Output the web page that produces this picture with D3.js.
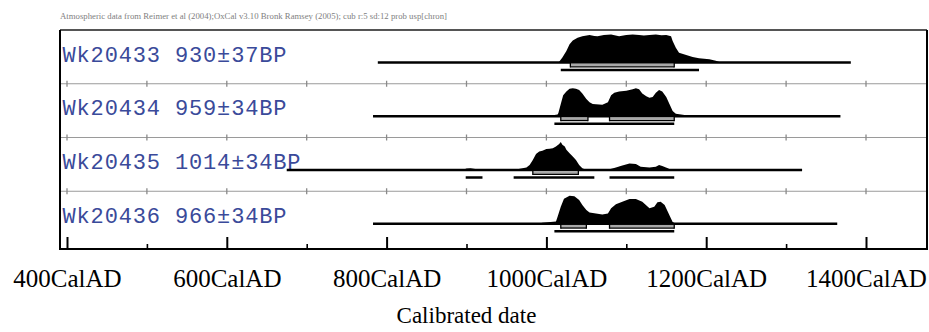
<!DOCTYPE html>
<html>
<head>
<meta charset="utf-8">
<script src="https://cdn.jsdelivr.net/npm/d3@7"></script>
<style>
  body { margin: 0; background: #fff; }
  svg { display: block; }
</style>
</head>
<body>
<div id="chart"></div>
<script>
// sample names and their BP ages
var samples = ["Wk20433", "Wk20434", "Wk20435", "Wk20436"];
var bpLabels = ["930\u00b137BP", "959\u00b134BP", "1014\u00b134BP", "966\u00b134BP"];

// full extent line under each distribution (cal AD)
var rangeLines = [[789, 1381], [783, 1368], [675, 1320], [783, 1364]];

// relative probability (1 = peak)
var dist1 = [[1014,0],[1016,0.03],[1020,0.18],[1025,0.41],[1029,0.65],[1033,0.79],[1039,0.88],[1045,0.94],[1054,0.98],[1060,0.95],[1064,0.94],[1072,0.98],[1081,1.0],[1091,0.94],[1100,0.98],[1108,1.0],[1116,0.98],[1122,0.96],[1129,0.98],[1137,1.0],[1144,0.97],[1150,0.98],[1156,0.94],[1158,0.77],[1162,0.53],[1166,0.35],[1175,0.27],[1183,0.2],[1191,0.15],[1204,0.12],[1212,0.06],[1218,0]];
var dist2 = [[990,0],[1008,0.04],[1014,0.06],[1015,0.12],[1018,0.44],[1021,0.75],[1025,0.88],[1029,0.98],[1033,1.0],[1037,0.98],[1041,0.94],[1045,0.81],[1050,0.62],[1054,0.5],[1058,0.44],[1070,0.41],[1077,0.5],[1081,0.75],[1085,0.84],[1091,0.88],[1100,0.91],[1108,0.96],[1112,1.0],[1116,0.96],[1120,0.81],[1125,0.71],[1129,0.66],[1133,0.69],[1137,0.84],[1141,0.94],[1145,0.88],[1150,0.69],[1154,0.44],[1158,0.19],[1162,0.09],[1175,0.04],[1179,0]];
var dist3 = [[895,0],[900,0.05],[905,0.06],[911,0.04],[915,0],[960,0],[962,0.02],[975,0.09],[979,0.18],[983,0.36],[987,0.57],[991,0.66],[995,0.69],[1000,0.75],[1004,0.76],[1008,0.78],[1012,0.84],[1016,0.93],[1018,1.0],[1020,0.9],[1023,0.84],[1025,0.72],[1029,0.6],[1033,0.48],[1037,0.36],[1041,0.18],[1045,0.06],[1050,0],[1076,0],[1079,0.03],[1087,0.09],[1095,0.16],[1104,0.23],[1112,0.21],[1118,0.12],[1129,0.09],[1137,0.12],[1141,0.18],[1145,0.14],[1152,0.06],[1156,0]];
var dist4 = [[990,0],[995,0.04],[1012,0.08],[1014,0.25],[1018,0.61],[1022,0.89],[1029,1.0],[1035,0.98],[1041,0.85],[1045,0.67],[1050,0.49],[1054,0.4],[1062,0.37],[1070,0.33],[1077,0.37],[1081,0.55],[1087,0.7],[1095,0.79],[1104,0.88],[1112,0.88],[1120,0.79],[1129,0.55],[1135,0.61],[1139,0.77],[1143,0.79],[1148,0.67],[1154,0.3],[1158,0.06],[1162,0]];
var dists = [dist1, dist2, dist3, dist4];

// 68.2% and 95.4% ranges
var range68 = [[[1030,1160]], [[1018,1052],[1079,1160]], [[983,1040]], [[1018,1050],[1079,1160]]];
var range95 = [[[1018,1191]], [[1010,1160]], [[899,920],[959,1060],[1079,1160]], [[1010,1160]]];

var majorTicks = [400, 600, 800, 1000, 1200, 1400];
var minorTicks = [500, 700, 900, 1100, 1300];
var gridTicks = [400, 500, 600, 700, 800, 900, 1000, 1100, 1200, 1300, 1400];

var title = "Atmospheric data from Reimer et al (2004);OxCal v3.10 Bronk Ramsey (2005); cub r:5 sd:12 prob usp[chron]";

var width = 929, height = 332;
var frame = { left: 60, right: 927, top: 30, bottom: 249 };

var svg = d3.select("#chart").append("svg")
  .attr("width", width)
  .attr("height", height);

var x = d3.scaleLinear().domain([400, 1400]).range([67, 866]);
var rows = d3.scaleBand().domain(samples).range([frame.top, 245]);
var yDens = d3.scaleLinear().domain([0, 1]).range([0, 28]);

// header
svg.append("text")
  .attr("x", frame.left)
  .attr("y", 19)
  .attr("textLength", 387)
  .attr("lengthAdjust", "spacingAndGlyphs")
  .style("font-family", "Liberation Serif")
  .style("font-size", "9px")
  .style("fill", "#808080")
  .text(title);

samples.forEach(function(s, i) {
  var top = rows(s);
  var base = top + 32.5;
  var g = svg.append("g");

  if (i > 0) {
    g.append("line")
      .attr("x1", frame.left).attr("x2", frame.right)
      .attr("y1", top).attr("y2", top)
      .style("stroke", "#9a9a9a").style("stroke-width", 1.2);
    g.selectAll(".gt").data(gridTicks).enter().append("line")
      .attr("x1", function(d) { return x(d); })
      .attr("x2", function(d) { return x(d); })
      .attr("y1", top - 3).attr("y2", top + 3)
      .style("stroke", "#8a8a8a").style("stroke-width", 1.3);
  }

  g.append("text")
    .attr("x", 62.5)
    .attr("y", top + 31.5)
    .style("font-family", "Liberation Mono")
    .style("font-size", "22px")
    .style("letter-spacing", "0.85px")
    .style("fill", "#3a4a9a")
    .text(s + " " + bpLabels[i]);

  var area = d3.area()
    .x(function(d) { return x(d[0]); })
    .y0(base)
    .y1(function(d) { return base - yDens(d[1]); });

  g.append("path")
    .datum(dists[i])
    .attr("d", area)
    .style("fill", "#000");

  g.append("line")
    .attr("x1", x(rangeLines[i][0])).attr("x2", x(rangeLines[i][1]))
    .attr("y1", base).attr("y2", base)
    .style("stroke", "#000").style("stroke-width", 2.5);

  range68[i].forEach(function(r) {
    g.append("rect")
      .attr("x", x(r[0])).attr("width", x(r[1]) - x(r[0]))
      .attr("y", base + 1.2).attr("height", 3)
      .style("fill", "#a8a8a8");
    g.append("line")
      .attr("x1", x(r[0])).attr("x2", x(r[1]))
      .attr("y1", base + 4.3).attr("y2", base + 4.3)
      .style("stroke", "#000").style("stroke-width", 1.3);
    [r[0], r[1]].forEach(function(e) {
      g.append("line")
        .attr("x1", x(e)).attr("x2", x(e))
        .attr("y1", base).attr("y2", base + 5)
        .style("stroke", "#000").style("stroke-width", 1.3);
    });
  });

  range95[i].forEach(function(r) {
    g.append("line")
      .attr("x1", x(r[0])).attr("x2", x(r[1]))
      .attr("y1", base + 7.5).attr("y2", base + 7.5)
      .style("stroke", "#000").style("stroke-width", 2.5);
  });
});

// frame
svg.append("line")
  .attr("x1", frame.left).attr("x2", frame.right)
  .attr("y1", frame.top).attr("y2", frame.top)
  .style("stroke", "#555").style("stroke-width", 2);
svg.append("line")
  .attr("x1", frame.left).attr("x2", frame.left)
  .attr("y1", frame.top).attr("y2", frame.bottom)
  .style("stroke", "#000").style("stroke-width", 2);
svg.append("line")
  .attr("x1", frame.right).attr("x2", frame.right)
  .attr("y1", frame.top).attr("y2", frame.bottom)
  .style("stroke", "#000").style("stroke-width", 2);

// axis
var xAxis = svg.append("g")
  .attr("transform", "translate(0," + frame.bottom + ")")
  .call(d3.axisBottom(x).tickValues(majorTicks).tickSize(-12).tickPadding(20)
    .tickFormat(function(d) { return d + "CalAD"; }));
xAxis.select(".domain").remove();
xAxis.selectAll("line").style("stroke", "#000").style("stroke-width", 2);
xAxis.selectAll("text")
  .style("font-family", "Liberation Serif")
  .style("font-size", "25px")
  .style("fill", "#000");

var minorAxis = svg.append("g")
  .attr("transform", "translate(0," + frame.bottom + ")")
  .call(d3.axisBottom(x).tickValues(minorTicks).tickSize(-5).tickFormat(""));
minorAxis.select(".domain").remove();
minorAxis.selectAll("line").style("stroke", "#000").style("stroke-width", 1.6);

svg.append("line")
  .attr("x1", frame.left - 1).attr("x2", frame.right + 1)
  .attr("y1", frame.bottom).attr("y2", frame.bottom)
  .style("stroke", "#000").style("stroke-width", 2);

svg.append("text")
  .attr("x", x(900))
  .attr("y", 323)
  .attr("text-anchor", "middle")
  .style("font-family", "Liberation Serif")
  .style("font-size", "23px")
  .style("fill", "#000")
  .text("Calibrated date");
</script>
</body>
</html>
